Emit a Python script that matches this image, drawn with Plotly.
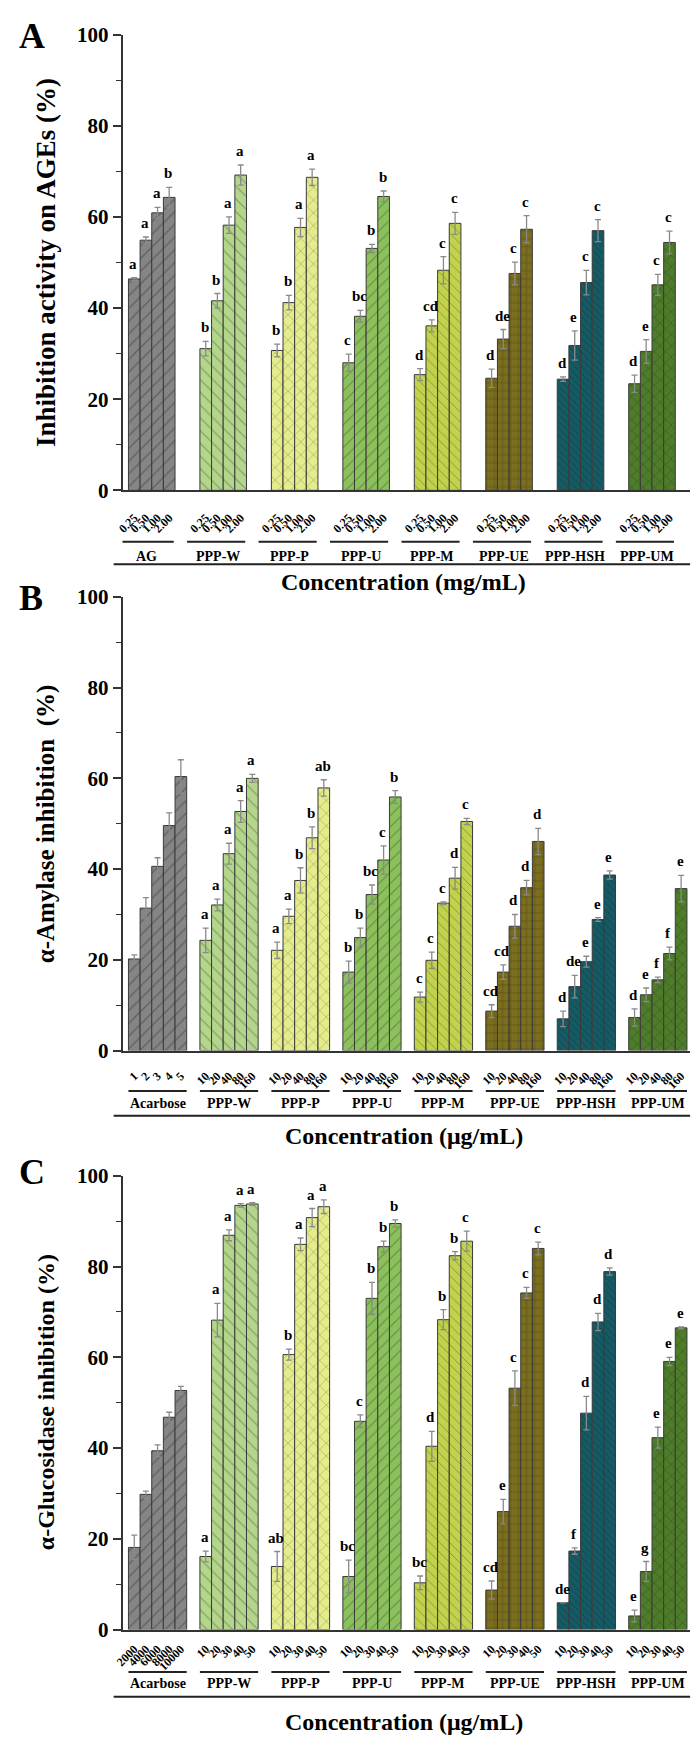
import plotly.graph_objects as go

# ---------------- data ----------------
groups_A = ["AG", "PPP-W", "PPP-P", "PPP-U", "PPP-M", "PPP-UE", "PPP-HSH", "PPP-UM"]
groups_BC = ["Acarbose", "PPP-W", "PPP-P", "PPP-U", "PPP-M", "PPP-UE", "PPP-HSH", "PPP-UM"]

ticks_A = ["0.25", "0.50", "1.00", "2.00"]
ticks_B_ref = ["1", "2", "3", "4", "5"]
ticks_B = ["10", "20", "40", "80", "160"]
ticks_C_ref = ["2000", "4000", "6000", "8000", "10000"]
ticks_C = ["10", "20", "30", "40", "50"]

A_values = [[46.4, 54.9, 60.9, 64.3], [31.1, 41.6, 58.2, 69.2], [30.7, 41.2, 57.7, 68.7],
            [28.0, 38.2, 53.1, 64.5], [25.4, 36.1, 48.3, 58.6], [24.6, 33.2, 47.6, 57.3],
            [24.4, 31.8, 45.6, 57.0], [23.4, 30.5, 45.1, 54.4]]
A_errors = [[0.3, 0.7, 1.2, 2.2], [1.6, 1.6, 1.8, 2.2], [1.4, 1.6, 2.0, 1.8],
            [1.9, 1.3, 0.9, 1.2], [1.3, 1.3, 3.0, 2.4], [2.0, 2.1, 2.5, 3.0],
            [0.5, 3.2, 2.7, 2.4], [1.9, 2.6, 2.3, 2.5]]
A_letters = [["a", "a", "a", "b"], ["b", "b", "a", "a"], ["b", "b", "a", "a"],
             ["c", "bc", "b", "b"], ["d", "cd", "c", "c"], ["d", "de", "c", "c"],
             ["d", "e", "c", "c"], ["d", "e", "c", "c"]]

B_values = [[20.2, 31.4, 40.6, 49.6, 60.4], [24.3, 32.1, 43.4, 52.7, 60.0],
            [22.1, 29.6, 37.5, 46.9, 57.9], [17.3, 24.9, 34.4, 42.0, 55.9],
            [11.8, 19.9, 32.5, 38.0, 50.5], [8.7, 17.3, 27.4, 35.9, 46.1],
            [7.0, 14.1, 19.6, 28.9, 38.7], [7.3, 12.3, 15.6, 21.4, 35.7]]
B_errors = [[0.9, 2.3, 1.9, 2.8, 3.7], [2.7, 1.3, 2.3, 2.4, 0.9],
            [1.8, 1.6, 2.8, 2.4, 1.8], [2.4, 2.1, 2.1, 3.1, 1.4],
            [1.1, 1.8, 0.3, 2.4, 0.7], [1.4, 1.6, 2.6, 1.6, 2.9],
            [1.7, 2.5, 1.2, 0.4, 0.9], [1.9, 1.5, 0.6, 1.4, 2.9]]
B_letters = [["", "", "", "", ""], ["a", "a", "a", "a", "a"], ["a", "a", "b", "b", "ab"],
             ["b", "b", "bc", "c", "b"], ["c", "c", "c", "d", "c"], ["cd", "cd", "d", "d", "d"],
             ["d", "de", "e", "e", "e"], ["d", "e", "f", "f", "e"]]

C_values = [[18.1, 29.8, 39.4, 46.8, 52.7], [16.1, 68.2, 86.9, 93.5, 93.8],
            [13.9, 60.6, 84.9, 90.8, 93.2], [11.7, 45.9, 73.0, 84.4, 89.5],
            [10.3, 40.4, 68.3, 82.4, 85.6], [8.7, 26.0, 53.2, 74.2, 84.0],
            [5.9, 17.3, 47.7, 67.8, 78.9], [3.0, 12.8, 42.3, 59.1, 66.5]]
C_errors = [[2.7, 0.7, 1.3, 1.1, 0.9], [1.2, 3.7, 1.2, 0.4, 0.3],
            [3.3, 1.2, 1.4, 2.0, 1.5], [3.6, 1.4, 3.5, 1.2, 0.8],
            [1.5, 3.3, 2.2, 0.9, 2.2], [2.0, 2.7, 3.8, 1.2, 1.4],
            [0.0, 0.7, 3.7, 1.9, 0.8], [1.3, 2.2, 2.3, 0.9, 0.2]]
C_letters = [["", "", "", "", ""], ["a", "a", "a", "a", "a"], ["ab", "b", "a", "a", "a"],
             ["bc", "c", "b", "b", "b"], ["bc", "d", "b", "b", "c"], ["cd", "e", "c", "c", "c"],
             ["de", "f", "d", "d", "d"], ["e", "g", "e", "e", "e"]]

# ---------------- style ----------------
styles = [  # shape, bg, fg, size
    ("/", "#858585", "#3a3a3a", 9),
    ("\\", "#b4d68c", "#58703e", 9),
    ("x", "#e4ec8c", "#6a7040", 9),
    ("/", "#8cc05c", "#3c5a26", 8),
    ("\\", "#c2d24c", "#566020", 7),
    ("+", "#7b6e1e", "#2c2808", 8),
    ("\\", "#165a63", "#08282e", 5),
    ("x", "#4e7c2a", "#1c3410", 8),
]

W, H = 699, 1754
FONT = "Liberation Serif"
X0, X1 = 115, 690
BW, GAP0, PITCH = 11.8, 6.0, 72.4


def py(p):
    return 1 - p / H


def pxp(p):
    return p / W


panels = [
    dict(top=23, bot=485, groups=groups_A, vals=A_values, errs=A_errors, lets=A_letters,
         ticks=[ticks_A] * 8, stand=14, gline=537, glabel=552, lline=560, title=578,
         ttext="Concentration (mg/mL)", ytitle="Inhibition activity on AGEs (%)", ysize=27,
         letter="A", lety=24, gl_off=-13),
    dict(top=593, bot=1053, groups=groups_BC, vals=B_values, errs=B_errors, lets=B_letters,
         ticks=[ticks_B_ref] + [ticks_B] * 7, stand=12, gline=1094, glabel=1107, lline=1119, title=1140,
         ttext="Concentration (μg/mL)", ytitle="α-Amylase inhibition  (%)", ysize=25,
         letter="B", lety=594, gl_off=0),
    dict(top=1180, bot=1640, groups=groups_BC, vals=C_values, errs=C_errors, lets=C_letters,
         ticks=[ticks_C_ref] + [ticks_C] * 7, stand=6, gline=1683, glabel=1695, lline=1708, title=1734,
         ttext="Concentration (μg/mL)", ytitle="α-Glucosidase inhibition (%)", ysize=24,
         letter="C", lety=1176, gl_off=0),
]

fig = go.Figure()
annotations = []
shapes = []

for pi, P in enumerate(panels):
    suffix = "" if pi == 0 else str(pi + 1)
    xa, ya = "x" + suffix, "y" + suffix
    tickvals, ticktext = [], []
    for g, gname in enumerate(P["groups"]):
        vals = P["vals"][g]
        n = len(vals)
        xs = [GAP0 + g * PITCH + (i + 0.5) * BW for i in range(n)]
        shp, bg, fg, sz = styles[g]
        fig.add_trace(go.Bar(
            x=xs, y=vals, width=[BW] * n, xaxis=xa, yaxis=ya, showlegend=False,
            marker=dict(color=bg, line=dict(color="#3a3a3a", width=1),
                        pattern=dict(shape=shp, fgcolor=fg, bgcolor=bg, size=sz, solidity=0.14)),
            error_y=dict(type="data", array=P["errs"][g], color="#8a8a8a", thickness=1.3, width=3),
        ))
        tickvals += xs
        ticktext += P["ticks"][g]
        for i in range(n):
            if P["lets"][g][i]:
                annotations.append(dict(
                    x=xs[i], y=vals[i] + P["errs"][g][i], xref=xa, yref=ya, text=P["lets"][g][i],
                    showarrow=False, yanchor="bottom", xanchor="center", yshift=4, xshift=-1,
                    font=dict(family=FONT, size=15, color="#000", weight="bold")))
        left = GAP0 + g * PITCH
        right = left + n * BW
        shapes.append(dict(type="line", xref=xa, yref="paper", x0=left + P["gl_off"], x1=right + P["gl_off"] * 0.1,
                           y0=py(P["gline"]), y1=py(P["gline"]), line=dict(color="#222", width=2)))
        annotations.append(dict(x=(left + right) / 2 + P["gl_off"] * 0.4, y=py(P["glabel"]), xref=xa, yref="paper",
                                text=gname, showarrow=False, xanchor="center", yanchor="middle",
                                font=dict(family=FONT, size=14, color="#000", weight="bold")))
    shapes.append(dict(type="line", xref="paper", yref="paper", x0=pxp(106), x1=pxp(690),
                       y0=py(P["lline"]), y1=py(P["lline"]), line=dict(color="#222", width=2)))
    annotations.append(dict(x=pxp(400), y=py(P["title"]), xref="paper", yref="paper", text=P["ttext"],
                            showarrow=False, xanchor="center", yanchor="middle",
                            font=dict(family=FONT, size=24, color="#000", weight="bold")))
    annotations.append(dict(x=pxp(37), y=py((P["top"] + P["bot"]) / 2), xref="paper", yref="paper",
                            text=P["ytitle"], textangle=-90, showarrow=False, xanchor="center",
                            yanchor="middle", font=dict(family=FONT, size=P["ysize"], color="#000", weight="bold")))
    annotations.append(dict(x=pxp(8), y=py(P["lety"]), xref="paper", yref="paper", text=P["letter"],
                            showarrow=False, xanchor="left", yanchor="middle",
                            font=dict(family=FONT, size=36, color="#000", weight="bold")))

    fig.update_layout(**{
        ("xaxis" + suffix): dict(
            domain=[pxp(X0), pxp(X1)], range=[0, X1 - X0], anchor=ya,
            tickvals=tickvals, ticktext=ticktext, tickangle=-45, ticks="",
            ticklabelstandoff=P["stand"],
            tickfont=dict(family=FONT, size=12, color="#000", weight="bold"),
            showline=True, linecolor="#333", linewidth=1.5, showgrid=False, zeroline=False,
            fixedrange=True),
        ("yaxis" + suffix): dict(
            domain=[py(P["bot"]), py(P["top"])], range=[0, 100], anchor=xa,
            tickvals=[0, 20, 40, 60, 80, 100], ticks="outside", ticklen=8, tickwidth=1.5,
            tickcolor="#333",
            minor=dict(tickvals=[10, 30, 50, 70, 90], ticks="outside", ticklen=5, tickwidth=1.2,
                       tickcolor="#333"),
            tickfont=dict(family=FONT, size=21, color="#000", weight="bold"),
            showline=True, linecolor="#333", linewidth=1.5, showgrid=False, zeroline=False,
            fixedrange=True),
    })

fig.update_layout(
    width=W, height=H, margin=dict(l=0, r=0, t=0, b=0),
    paper_bgcolor="white", plot_bgcolor="white", barmode="overlay",
    annotations=annotations, shapes=shapes, showlegend=False,
)

fig.write_html("out.html", config={"displayModeBar": False},
               post_script="document.body.style.margin='0';document.body.style.padding='0';")
